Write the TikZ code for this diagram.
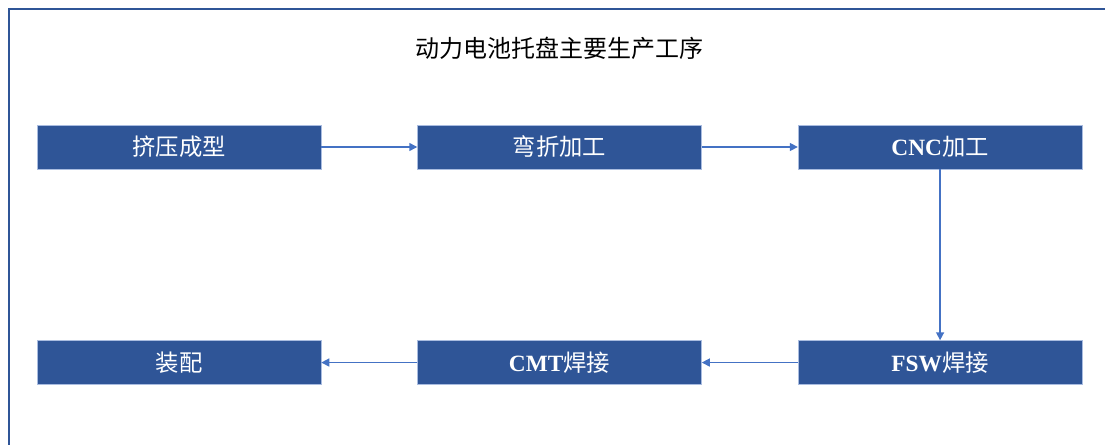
\documentclass[tikz,border=0pt]{standalone}
\usepackage{fontspec}
\setmainfont{Liberation Serif}
\newfontfamily\cjk{Noto Sans CJK SC}
\usepackage{tikz}
\usetikzlibrary{arrows.meta,positioning}
\definecolor{boxblue}{HTML}{2F5597}
\definecolor{edgeblue}{HTML}{A9BCE0}
\definecolor{arrowblue}{HTML}{4472C4}
\newcommand{\zh}[1]{{\cjk\mdseries #1}}
\tikzset{
  stage/.style={draw=edgeblue, line width=0.4pt, fill=boxblue, text=white,
    minimum width=213pt, minimum height=33pt, inner sep=0pt,
    font=\fontsize{17.5}{20}\selectfont\bfseries},
  flow/.style={arrowblue, line width=1.1pt, -{Triangle[length=6pt,width=6pt]}}
}
\begin{document}
\begin{tikzpicture}[x=0.75pt, y=-0.75pt, node distance=128.25pt and 72pt]
  \useasboundingbox (0,0) rectangle (1105,445);
  % frame
  \draw[boxblue, line width=1.2pt] (9,445) -- (9,9) -- (1105,9);
  \node (title) at (559,48) {\fontsize{18}{20}\selectfont\zh{动力电池托盘主要生产工序}};
  % top row
  \node[stage] (extrude) at (179,147) {\zh{挤压成型}};
  \node[stage, right=of extrude] (bend) {\zh{弯折加工}};
  \node[stage, right=of bend] (cnc) {CNC\zh{加工}};
  % bottom row
  \node[stage, below=of cnc] (fsw) {FSW\zh{焊接}};
  \node[stage, left=of fsw] (cmt) {CMT\zh{焊接}};
  \node[stage, left=of cmt] (assy) {\zh{装配}};
  \draw[flow] (extrude) -- (bend);
  \draw[flow] (bend) -- (cnc);
  \draw[flow] (cnc) -- (fsw);
  \draw[flow] (fsw) -- (cmt);
  \draw[flow] (cmt) -- (assy);
\end{tikzpicture}
\end{document}
